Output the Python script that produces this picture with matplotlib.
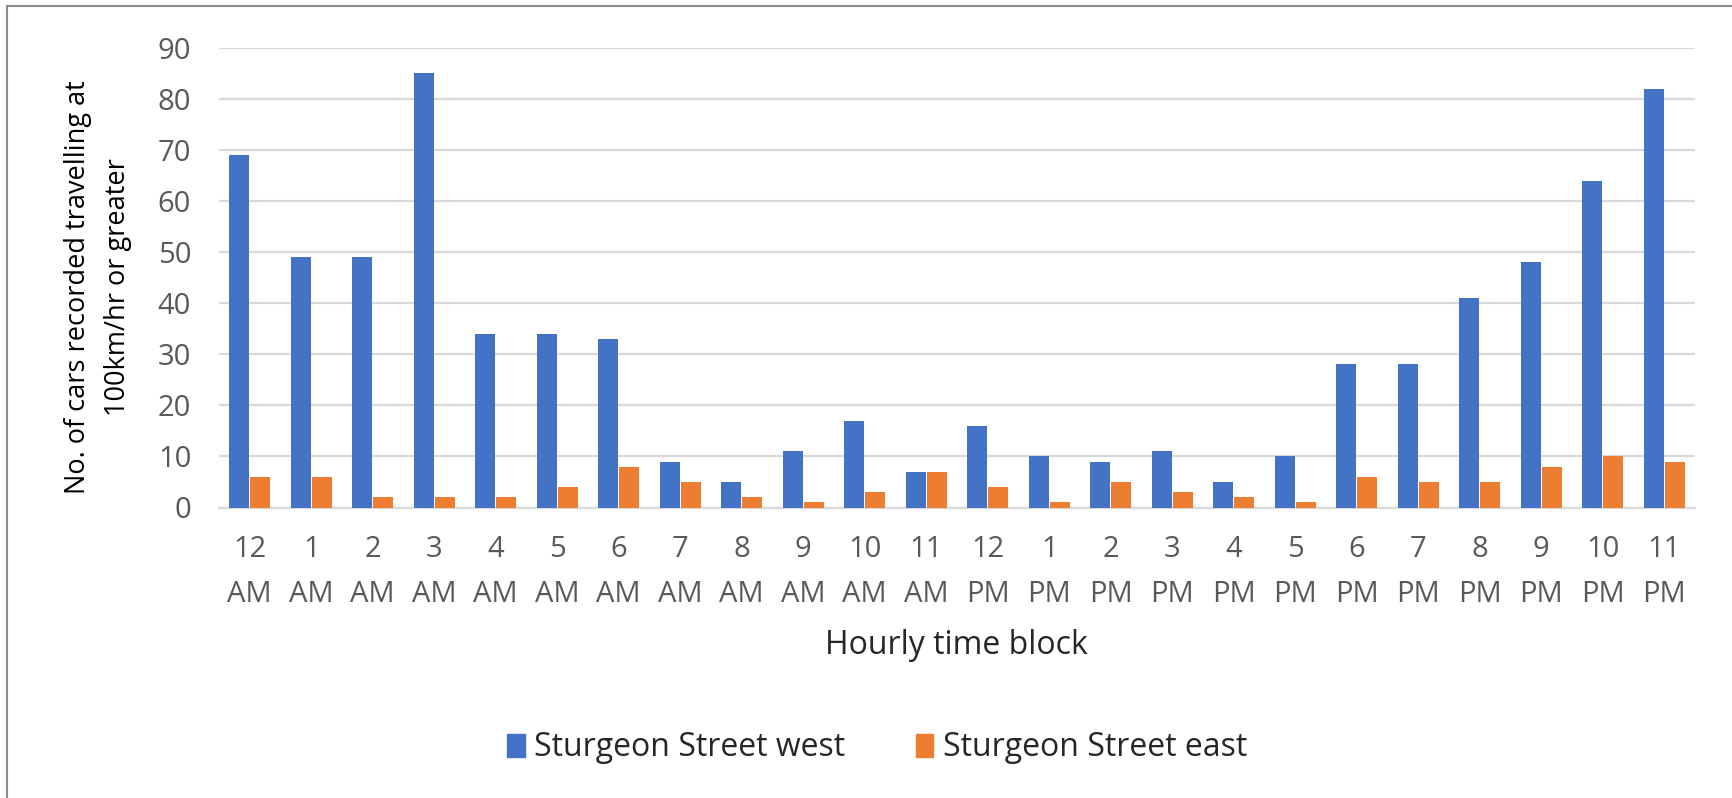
import numpy as np
import matplotlib
matplotlib.use("Agg")
import matplotlib.pyplot as plt
from matplotlib.lines import Line2D
from matplotlib.patches import Patch

hours = ["12\nAM", "1\nAM", "2\nAM", "3\nAM", "4\nAM", "5\nAM", "6\nAM", "7\nAM",
         "8\nAM", "9\nAM", "10\nAM", "11\nAM", "12\nPM", "1\nPM", "2\nPM", "3\nPM",
         "4\nPM", "5\nPM", "6\nPM", "7\nPM", "8\nPM", "9\nPM", "10\nPM", "11\nPM"]
west = [69, 49, 49, 85, 34, 34, 33, 9, 5, 11, 17, 7, 16, 10, 9, 11, 5, 10, 28, 28, 41, 48, 64, 82]
east = [6, 6, 2, 2, 2, 4, 8, 5, 2, 1, 3, 7, 4, 1, 5, 3, 2, 1, 6, 5, 5, 8, 10, 9]

plt.rcParams['font.family'] = ['Open Sans', 'DejaVu Sans']

W, H = 1732, 798
fig = plt.figure(figsize=(W / 100, H / 100), dpi=100)
ax = fig.add_axes([219 / W, 1 - 507.5 / H, (1695 - 219) / W, (507.5 - 47.7) / H])

x = np.arange(len(hours))
bw = 0.32
ax.bar(x - 0.172, west, bw, color="#4472C4", zorder=3, label="Sturgeon Street west")
ax.bar(x + 0.172, east, bw, color="#ED7D31", zorder=3, label="Sturgeon Street east")

ax.set_xlim(-0.5, len(hours) - 0.5)
ax.set_ylim(0, 90)
ax.set_yticks(range(0, 91, 10))
ax.set_xticks(x)
ax.set_xticklabels(hours, linespacing=1.7)
ax.yaxis.grid(True, color="#d9d9d9", linewidth=1.6, zorder=0)
ax.tick_params(axis="both", length=0, labelsize=21, labelcolor="#595959")
ax.tick_params(axis="y", pad=20)
ax.tick_params(axis="x", pad=20)
for s in ["top", "right", "left"]:
    ax.spines[s].set_visible(False)
ax.spines["bottom"].set_color("#d9d9d9")
ax.spines["bottom"].set_linewidth(1.6)

fig.text(956 / W, 1 - 646 / H, "Hourly time block", ha="center", va="center",
         fontsize=23, color="#262626")
fig.text(98 / W, 1 - 287 / H, "No. of cars recorded travelling at\n100km/hr or greater",
         rotation=90, ha="center", va="center", multialignment="center",
         fontsize=19.5, color="black", linespacing=1.55)

handles = [Patch(color="#4472C4"), Patch(color="#ED7D31")]
fig.legend(handles, ["Sturgeon Street west", "Sturgeon Street east"], loc="center",
           bbox_to_anchor=(877 / W, 1 - 748 / H), ncol=2, frameon=False,
           fontsize=23, labelcolor="#262626", handlelength=0.55, handleheight=0.7,
           handletextpad=0.3, columnspacing=2.2)

# outer frame (left and top only)
fig.add_artist(Line2D([7 / W, 7 / W], [0, 1 - 6 / H], color="#8c8c8c", linewidth=1.5))
fig.add_artist(Line2D([7 / W, 1], [1 - 6 / H, 1 - 6 / H], color="#8c8c8c", linewidth=1.5))

fig.savefig("out.png", dpi=100, facecolor="white")
